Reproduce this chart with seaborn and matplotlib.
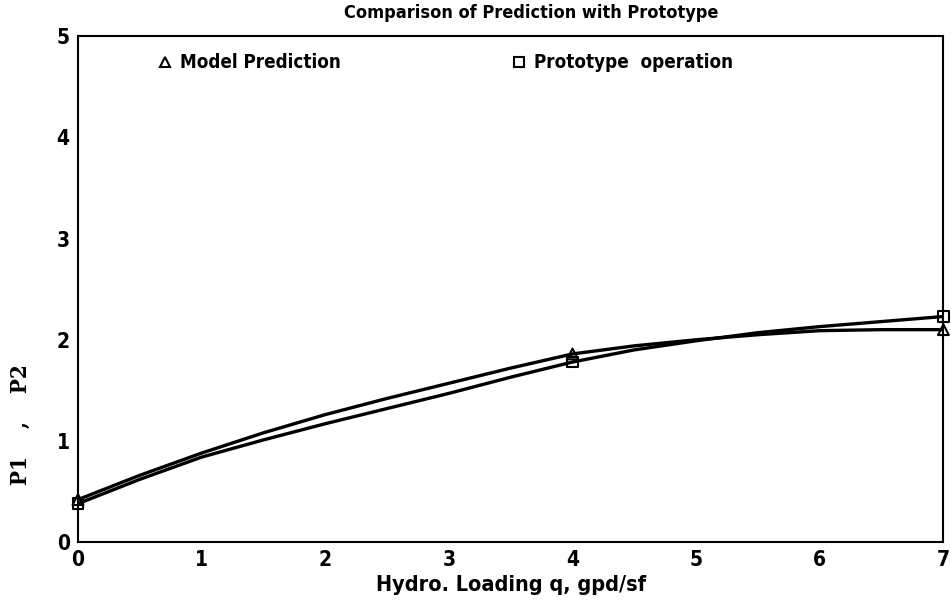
import pandas as pd
import seaborn as sns
from matplotlib import pyplot as plt
from matplotlib.lines import Line2D

# curve values (P vs hydraulic loading)
q = [0, 0.5, 1, 1.5, 2, 2.5, 3, 3.5, 4, 4.5, 5, 5.5, 6, 6.5, 7]
p_model = [0.42, 0.66, 0.88, 1.08, 1.26, 1.42, 1.57, 1.72, 1.86, 1.94, 2.00, 2.05, 2.09, 2.10, 2.10]
p_proto = [0.38, 0.62, 0.84, 1.01, 1.17, 1.32, 1.47, 1.63, 1.78, 1.90, 1.99, 2.07, 2.13, 2.18, 2.23]

# measured points shown with markers
q_pts = [0, 4, 7]
model_pts = [0.42, 1.86, 2.10]
proto_pts = [0.38, 1.78, 2.23]

x_ticks = [0, 1, 2, 3, 4, 5, 6, 7]
y_ticks = [0, 1, 2, 3, 4, 5]

sns.set_style("white")
plt.rcParams['font.family'] = ['DejaVu Sans']
plt.rcParams['font.stretch'] = 'condensed'
plt.rcParams['font.weight'] = 'bold'
plt.rcParams['text.color'] = 'black'
plt.rcParams['xtick.color'] = 'black'
plt.rcParams['ytick.color'] = 'black'
plt.rcParams['axes.labelcolor'] = 'black'

curves = pd.concat([
    pd.DataFrame({'q': q, 'P': p_model, 'series': 'Model Prediction'}),
    pd.DataFrame({'q': q, 'P': p_proto, 'series': 'Prototype operation'}),
])
pts = pd.concat([
    pd.DataFrame({'q': q_pts, 'P': model_pts, 'series': 'Model Prediction'}),
    pd.DataFrame({'q': q_pts, 'P': proto_pts, 'series': 'Prototype operation'}),
])

fig = plt.figure(figsize=(9.51, 6.05), dpi=100)
ax = fig.add_axes([0.082, 0.104, 0.910, 0.836])

sns.lineplot(data=curves, x='q', y='P', hue='series',
             palette=['black', 'black'], linewidth=2.4, legend=False, ax=ax)
sns.scatterplot(data=pts, x='q', y='P', style='series', markers=['^', 's'],
                color='black', facecolor='none', edgecolor='black', linewidth=1.5,
                s=60, legend=False, ax=ax, clip_on=False)

ax.set_xlim(0, 7)
ax.set_ylim(0, 5)
ax.set_xticks(x_ticks)
ax.set_yticks(y_ticks)
ax.set_xticklabels([str(t) for t in x_ticks], fontsize=15, fontweight='bold')
ax.set_yticklabels([str(t) for t in y_ticks], fontsize=15, fontweight='bold')
ax.tick_params(axis='y', direction='out', length=5, width=1.2, pad=1)
ax.tick_params(axis='x', direction='out', length=0, pad=6)
for sp in ax.spines.values():
    sp.set_visible(True)
    sp.set_color('black')
    sp.set_linewidth(1.5)

ax.set_xlabel('Hydro. Loading q, gpd/sf', fontsize=15.5, fontweight='bold', labelpad=3)
ax.set_ylabel('')
fig.text(0.022, 0.298, 'P1    ,    P2', rotation=90, fontsize=16, fontweight='bold',
         family='DejaVu Serif', ha='center', va='center')
fig.text(0.559, 0.979, 'Comparison of Prediction with Prototype', fontsize=13,
         fontweight='bold', ha='center', va='center')

handles = [Line2D([], [], marker='^', linestyle='none', markerfacecolor='none',
                  markeredgecolor='black', markersize=7, markeredgewidth=1.5),
           Line2D([], [], marker='s', linestyle='none', markerfacecolor='none',
                  markeredgecolor='black', markersize=7, markeredgewidth=1.5)]
ax.legend(handles, ['Model Prediction', 'Prototype  operation'], ncol=2, frameon=False,
          loc='upper left', bbox_to_anchor=(0.07, 1.0), columnspacing=9.0,
          handletextpad=0.3, handlelength=1.0,
          prop={'size': 13.5, 'weight': 'bold', 'stretch': 'condensed'})

fig.savefig('out.png', dpi=100)
